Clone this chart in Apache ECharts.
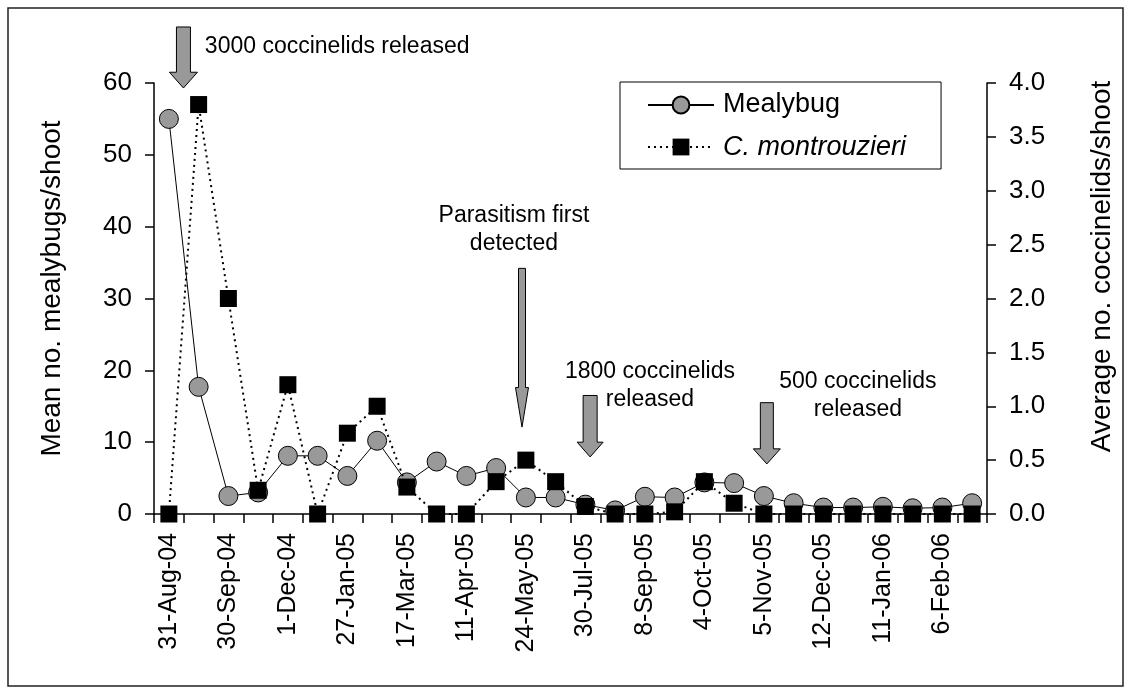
<!DOCTYPE html>
<html>
<head>
<meta charset="utf-8">
<script src="https://cdn.jsdelivr.net/npm/echarts@6/dist/echarts.min.js"></script>
<style>
html,body{margin:0;padding:0;background:#fff;}
#c{width:1131px;height:694px;}
</style>
</head>
<body>
<div id="c"></div>
<script>
// 28 sampling dates; only every second one carries a tick label
const categories = ["31-Aug-04","","30-Sep-04","","1-Dec-04","","27-Jan-05","","17-Mar-05","",
  "11-Apr-05","","24-May-05","","30-Jul-05","","8-Sep-05","","4-Oct-05","",
  "5-Nov-05","","12-Dec-05","","11-Jan-06","","6-Feb-06",""];

// Mean no. mealybugs/shoot (left axis)
const mealybug = [55.0,17.7,2.5,3.0,8.1,8.1,5.3,10.2,4.4,7.3,5.3,6.4,2.3,2.3,1.3,0.5,
  2.4,2.3,4.4,4.3,2.5,1.5,0.9,0.9,1.0,0.8,0.9,1.5];

// Average no. coccinelids/shoot (right axis)
const coccinelids = [0,3.8,2.0,0.22,1.2,0,0.75,1.0,0.25,0,0,0.3,0.5,0.3,0.07,0,
  0,0.02,0.3,0.1,0,0,0,0,0,0,0,0];

const leftTicks = {min:0, max:60, interval:10};
const rightTicks = {min:0, max:4, interval:0.5};

// Annotation arrows (x = category position, y values on left axis)
const arrowNotes = [
  {x:0.49, top:67.8, head:61.5, tip:59.3},
  {x:11.87, top:34.2, head:17.6, tip:12.1},
  {x:14.16, top:16.5, head:10.0, tip:7.95},
  {x:20.1, top:15.5, head:9.07, tip:6.97}
];
const arrowSizes = [[14,28],[7,13],[14,26],[13,27]];
const textNotes = [
  {x:1.21, y:65.1, text:"3000 coccinelids released", align:"left"},
  {x:11.6, y:39.6, text:"Parasitism first\ndetected", align:"center"},
  {x:16.17, y:17.85, text:"1800 coccinelids\nreleased", align:"center"},
  {x:23.16, y:16.5, text:"500 coccinelids\nreleased", align:"center"}
];

const FONT = "Liberation Sans";
const chart = echarts.init(document.getElementById('c'), null, {renderer:'canvas'});

const option = {
  animation:false,
  backgroundColor:'#fff',
  textStyle:{fontFamily:FONT, color:'#000'},
  grid:{left:154, right:144, top:83, bottom:180, containLabel:false},
  legend:{
    orient:'vertical', left:620, top:82,
    itemWidth:66, itemHeight:21, itemGap:12,
    padding:[8,35,7,27],
    borderColor:'#000', borderWidth:1,
    textStyle:{fontSize:27, color:'#000', fontFamily:FONT, lineHeight:30, padding:[0,0,0,4]},
    data:[{name:'Mealybug'},{name:'C. montrouzieri', textStyle:{fontStyle:'italic'}}]
  },
  xAxis:{
    type:'category', data:categories, boundaryGap:true,
    axisLine:{show:true, lineStyle:{color:'#000', width:1.5}},
    axisTick:{show:true, interval:0, length:9, inside:false, lineStyle:{color:'#000', width:1.5}},
    axisLabel:{interval:0, rotate:90, fontSize:25, color:'#000', margin:19, fontFamily:FONT},
    splitLine:{show:false}
  },
  yAxis:[
    {
      type:'value', position:'left', min:leftTicks.min, max:leftTicks.max, interval:leftTicks.interval,
      axisLine:{show:true, lineStyle:{color:'#000', width:1.5}},
      axisTick:{show:true, length:9, lineStyle:{color:'#000', width:1.5}},
      axisLabel:{fontSize:26, color:'#000', margin:22, fontFamily:FONT},
      splitLine:{show:false},
      name:'Mean no. mealybugs/shoot', nameLocation:'middle', nameRotate:90, nameGap:88,
      nameTextStyle:{fontSize:28, color:'#000', fontFamily:FONT, padding:[0,0,0,20]}
    },
    {
      type:'value', position:'right', min:rightTicks.min, max:rightTicks.max, interval:rightTicks.interval,
      axisLine:{show:true, lineStyle:{color:'#000', width:1.5}},
      axisTick:{show:true, length:9, lineStyle:{color:'#000', width:1.5}},
      axisLabel:{fontSize:26, color:'#000', margin:22, fontFamily:FONT, formatter:v=>v.toFixed(1)},
      splitLine:{show:false},
      name:'Average no. coccinelids/shoot', nameLocation:'middle', nameRotate:90, nameGap:101,
      nameTextStyle:{fontSize:28, color:'#000', fontFamily:FONT, padding:[0,0,0,64]}
    }
  ],
  series:[
    {
      name:'Mealybug', type:'line', yAxisIndex:0, data:mealybug,
      symbol:'circle', symbolSize:19,
      lineStyle:{color:'#000', width:1},
      itemStyle:{color:'#999999', borderColor:'#000', borderWidth:1},
      z:2
    },
    {
      name:'C. montrouzieri', type:'line', yAxisIndex:1, data:coccinelids,
      symbol:'rect', symbolSize:17,
      lineStyle:{color:'#000', width:2, type:[2,4]},
      itemStyle:{color:'#000'},
      z:3
    }
  ]
};
chart.setOption(option);

function px(f, v){
  const i = Math.floor(f);
  const a = chart.convertToPixel({xAxisIndex:0, yAxisIndex:0}, [i, v]);
  const b = chart.convertToPixel({xAxisIndex:0, yAxisIndex:0}, [i+1, v]);
  return [a[0] + (f - i)*(b[0]-a[0]), a[1]];
}

const graphics = [];
graphics.push({type:'rect', shape:{x:8, y:8, width:1115, height:678},
  style:{fill:'none', stroke:'#222', lineWidth:1.5}, silent:true, z:0});

arrowNotes.forEach((a, k) => {
  const sw = arrowSizes[k][0]/2, hw = arrowSizes[k][1]/2;
  const t = px(a.x, a.top), h = px(a.x, a.head), p = px(a.x, a.tip);
  const cx = t[0];
  graphics.push({type:'polygon', silent:true, z:10,
    shape:{points:[[cx-sw,t[1]],[cx+sw,t[1]],[cx+sw,h[1]],[cx+hw,h[1]],[cx,p[1]],[cx-hw,h[1]],[cx-sw,h[1]]]},
    style:{fill:'#999999', stroke:'#000', lineWidth:1}});
});

textNotes.forEach(n => {
  const p = px(n.x, n.y);
  graphics.push({type:'text', x:p[0], y:p[1], silent:true, z:10,
    style:{text:n.text, fontSize:23, fontFamily:FONT, fill:'#000', align:n.align, verticalAlign:'middle', lineHeight:28}});
});

chart.setOption({graphic:graphics});
</script>
</body>
</html>
